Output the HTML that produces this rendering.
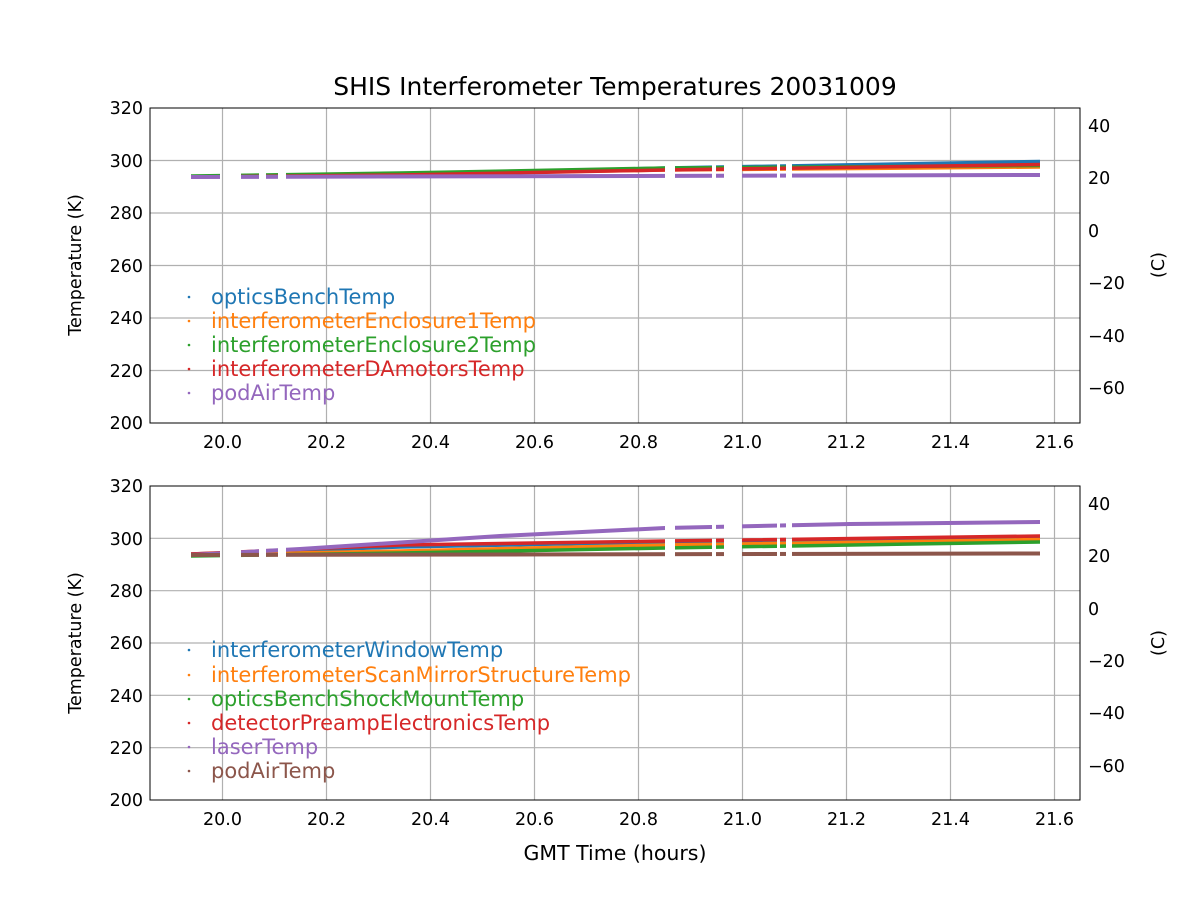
<!DOCTYPE html>
<html><head><meta charset="utf-8"><style>
body{margin:0;background:#fff}
text{font-family:"DejaVu Sans","Liberation Sans",sans-serif;fill:#000}
</style></head><body>
<svg width="1200" height="900" viewBox="0 0 1200 900" xmlns="http://www.w3.org/2000/svg">
<defs>
<clipPath id="segT"><rect x="191" y="100" width="29" height="330"/><rect x="241" y="100" width="18" height="330"/><rect x="266" y="100" width="12" height="330"/><rect x="286" y="100" width="379" height="330"/><rect x="675" y="100" width="37" height="330"/><rect x="716" y="100" width="8" height="330"/><rect x="742" y="100" width="35" height="330"/><rect x="780" y="100" width="6" height="330"/><rect x="792" y="100" width="248" height="330"/></clipPath>
<clipPath id="segB"><rect x="191" y="480" width="29" height="330"/><rect x="241" y="480" width="18" height="330"/><rect x="266" y="480" width="12" height="330"/><rect x="286" y="480" width="379" height="330"/><rect x="675" y="480" width="37" height="330"/><rect x="716" y="480" width="8" height="330"/><rect x="742" y="480" width="35" height="330"/><rect x="780" y="480" width="6" height="330"/><rect x="792" y="480" width="248" height="330"/></clipPath>
</defs>
<text x="615" y="95" font-size="25" text-anchor="middle">SHIS Interferometer Temperatures 20031009</text>

<!-- TOP PANEL -->
<g stroke="#b0b0b0" stroke-width="1.2">
<line x1="222.5" y1="108" x2="222.5" y2="423"/><line x1="326.5" y1="108" x2="326.5" y2="423"/><line x1="430.5" y1="108" x2="430.5" y2="423"/><line x1="534.5" y1="108" x2="534.5" y2="423"/><line x1="638.5" y1="108" x2="638.5" y2="423"/><line x1="742.5" y1="108" x2="742.5" y2="423"/><line x1="846.5" y1="108" x2="846.5" y2="423"/><line x1="950.5" y1="108" x2="950.5" y2="423"/><line x1="1054.5" y1="108" x2="1054.5" y2="423"/>
<line x1="150" y1="160.5" x2="1080" y2="160.5"/><line x1="150" y1="213" x2="1080" y2="213"/><line x1="150" y1="265.5" x2="1080" y2="265.5"/><line x1="150" y1="318" x2="1080" y2="318"/><line x1="150" y1="370.5" x2="1080" y2="370.5"/>
</g>
<g fill="none" stroke-width="3.5" clip-path="url(#segT)">
<polyline stroke="#1f77b4" points="191,176.8 400,174.5 665,168 1040,161.5"/>
<polyline stroke="#ff7f0e" points="191,176.5 400,174 665,170 1040,167"/>
<polyline stroke="#2ca02c" points="191,176 400,173 665,168 1040,165.5"/>
<polyline stroke="#d62728" points="191,177 400,175 665,170 1040,164.5"/>
<polyline stroke="#9467bd" stroke-width="4" points="191,177 1040,175"/>
</g>
<rect x="150" y="108" width="930" height="315" fill="none" stroke="#000" stroke-width="1"/>
<g font-size="17.5" text-anchor="end">
<text x="143" y="114">320</text><text x="143" y="167">300</text><text x="143" y="219">280</text><text x="143" y="272">260</text><text x="143" y="324">240</text><text x="143" y="377">220</text><text x="143" y="429">200</text>
</g>
<g font-size="17.5" text-anchor="middle">
<text x="222.5" y="448">20.0</text><text x="326.5" y="448">20.2</text><text x="430.5" y="448">20.4</text><text x="534.5" y="448">20.6</text><text x="638.5" y="448">20.8</text><text x="742.5" y="448">21.0</text><text x="846.5" y="448">21.2</text><text x="950.5" y="448">21.4</text><text x="1054.5" y="448">21.6</text>
</g>
<g font-size="17.5">
<text x="1088" y="132">40</text><text x="1088" y="184">20</text><text x="1088" y="237">0</text><text x="1088" y="289">−20</text><text x="1088" y="342">−40</text><text x="1088" y="394">−60</text>
</g>
<text transform="translate(81,265) rotate(-90)" font-size="17.5" text-anchor="middle">Temperature (K)</text>
<text transform="translate(1164,265) rotate(-90)" font-size="17.5" text-anchor="middle">(C)</text>
<g font-size="21">
<circle cx="189" cy="297" r="1.3" fill="#1f77b4"/><text x="211" y="304" style="fill:#1f77b4">opticsBenchTemp</text>
<circle cx="189" cy="321" r="1.3" fill="#ff7f0e"/><text x="211" y="328" style="fill:#ff7f0e">interferometerEnclosure1Temp</text>
<circle cx="189" cy="345" r="1.3" fill="#2ca02c"/><text x="211" y="352" style="fill:#2ca02c">interferometerEnclosure2Temp</text>
<circle cx="189" cy="369" r="1.3" fill="#d62728"/><text x="211" y="376" style="fill:#d62728">interferometerDAmotorsTemp</text>
<circle cx="189" cy="393" r="1.3" fill="#9467bd"/><text x="211" y="400" style="fill:#9467bd">podAirTemp</text>
</g>

<!-- BOTTOM PANEL -->
<g stroke="#b0b0b0" stroke-width="1.2">
<line x1="222.5" y1="486" x2="222.5" y2="800"/><line x1="326.5" y1="486" x2="326.5" y2="800"/><line x1="430.5" y1="486" x2="430.5" y2="800"/><line x1="534.5" y1="486" x2="534.5" y2="800"/><line x1="638.5" y1="486" x2="638.5" y2="800"/><line x1="742.5" y1="486" x2="742.5" y2="800"/><line x1="846.5" y1="486" x2="846.5" y2="800"/><line x1="950.5" y1="486" x2="950.5" y2="800"/><line x1="1054.5" y1="486" x2="1054.5" y2="800"/>
<line x1="150" y1="538.3" x2="1080" y2="538.3"/><line x1="150" y1="590.7" x2="1080" y2="590.7"/><line x1="150" y1="643" x2="1080" y2="643"/><line x1="150" y1="695.3" x2="1080" y2="695.3"/><line x1="150" y1="747.7" x2="1080" y2="747.7"/>
</g>
<g fill="none" stroke-width="3.5" clip-path="url(#segB)">
<polyline stroke="#1f77b4" points="191,554 400,547 665,542 1040,538"/>
<polyline stroke="#ff7f0e" points="191,555 400,551 665,545 1040,539.5"/>
<polyline stroke="#2ca02c" points="191,556 400,553 665,548 1040,542"/>
<polyline stroke="#d62728" points="191,554 400,545 665,541 1040,536"/>
<polyline stroke="#9467bd" stroke-width="4" points="191,555 300,549 500,536 665,528 850,524 1040,522"/>
<polyline stroke="#8c564b" stroke-width="4" points="191,555 1040,553.5"/>
</g>
<rect x="150" y="486" width="930" height="314" fill="none" stroke="#000" stroke-width="1"/>
<g font-size="17.5" text-anchor="end">
<text x="143" y="492">320</text><text x="143" y="545">300</text><text x="143" y="597">280</text><text x="143" y="649">260</text><text x="143" y="702">240</text><text x="143" y="754">220</text><text x="143" y="806">200</text>
</g>
<g font-size="17.5" text-anchor="middle">
<text x="222.5" y="825">20.0</text><text x="326.5" y="825">20.2</text><text x="430.5" y="825">20.4</text><text x="534.5" y="825">20.6</text><text x="638.5" y="825">20.8</text><text x="742.5" y="825">21.0</text><text x="846.5" y="825">21.2</text><text x="950.5" y="825">21.4</text><text x="1054.5" y="825">21.6</text>
</g>
<g font-size="17.5">
<text x="1088" y="510">40</text><text x="1088" y="562">20</text><text x="1088" y="615">0</text><text x="1088" y="667">−20</text><text x="1088" y="719">−40</text><text x="1088" y="772">−60</text>
</g>
<text x="615" y="860" font-size="20.5" text-anchor="middle">GMT Time (hours)</text>
<text transform="translate(81,643) rotate(-90)" font-size="17.5" text-anchor="middle">Temperature (K)</text>
<text transform="translate(1164,643) rotate(-90)" font-size="17.5" text-anchor="middle">(C)</text>
<g font-size="21">
<circle cx="189" cy="650" r="1.3" fill="#1f77b4"/><text x="211" y="657" style="fill:#1f77b4">interferometerWindowTemp</text>
<circle cx="189" cy="675" r="1.3" fill="#ff7f0e"/><text x="211" y="682" style="fill:#ff7f0e">interferometerScanMirrorStructureTemp</text>
<circle cx="189" cy="699" r="1.3" fill="#2ca02c"/><text x="211" y="706" style="fill:#2ca02c">opticsBenchShockMountTemp</text>
<circle cx="189" cy="723" r="1.3" fill="#d62728"/><text x="211" y="730" style="fill:#d62728">detectorPreampElectronicsTemp</text>
<circle cx="189" cy="747" r="1.3" fill="#9467bd"/><text x="211" y="754" style="fill:#9467bd">laserTemp</text>
<circle cx="189" cy="771" r="1.3" fill="#8c564b"/><text x="211" y="778" style="fill:#8c564b">podAirTemp</text>
</g>
</svg>
</body></html>
